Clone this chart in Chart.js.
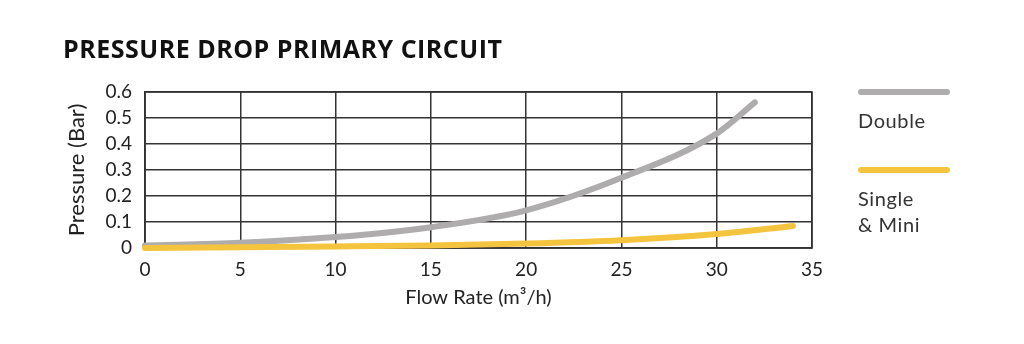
<!DOCTYPE html>
<html>
<head>
<meta charset="utf-8">
<script src="https://cdn.jsdelivr.net/npm/chart.js@4/dist/chart.umd.min.js"></script>
<style>
  html, body { margin: 0; padding: 0; background: #fff; }
  #wrap { position: relative; width: 1024px; height: 344px; }
  #title {
    position: absolute; left: 63px; top: 31px;
    font: 700 25px "Open Sans", sans-serif; color: #111; letter-spacing: 0.5px;
  }
  .swatch { position: absolute; left: 858px; width: 92px; height: 6px; border-radius: 3px; }
  .leg { position: absolute; left: 858px; font: 20px "Lato", sans-serif; color: #333; line-height: 26px; letter-spacing: 0.6px; }
</style>
</head>
<body>
<div id="wrap">
  <div id="title">PRESSURE DROP PRIMARY CIRCUIT</div>
  <canvas id="chart" width="1024" height="344"></canvas>
  <div class="swatch" style="top:89px; background:#aeacac"></div>
  <div class="leg" style="top:107px">Double</div>
  <div class="swatch" style="top:167px; background:#f5c43e"></div>
  <div class="leg" style="top:185px">Single<br>&amp; Mini</div>
</div>
<script>
// --- data ---
const doubleFlow = [0, 5, 10, 15, 20, 25, 30, 32];
const doublePressure = [0.01, 0.02, 0.042, 0.08, 0.145, 0.27, 0.44, 0.56];
const singleFlow = [0, 5, 10, 15, 20, 25, 30, 34];
const singlePressure = [0.0, 0.003, 0.006, 0.01, 0.017, 0.03, 0.054, 0.085];
const xTicks = [0, 5, 10, 15, 20, 25, 30, 35];
const yTicks = [0, 0.1, 0.2, 0.3, 0.4, 0.5, 0.6];

const toPoints = (xs, ys) => xs.map((x, i) => ({ x, y: ys[i] }));
const tickFont = { family: 'Lato', size: 19 };

new Chart(document.getElementById('chart'), {
  type: 'line',
  data: {
    datasets: [
      {
        label: 'Single & Mini',
        data: toPoints(singleFlow, singlePressure),
        borderColor: '#f5c43e',
        borderWidth: 6,
        borderCapStyle: 'round',
        pointRadius: 0,
        cubicInterpolationMode: 'monotone',
        clip: false,
      },
      {
        label: 'Double',
        data: toPoints(doubleFlow, doublePressure),
        borderColor: '#aeacac',
        borderWidth: 6,
        borderCapStyle: 'round',
        pointRadius: 0,
        cubicInterpolationMode: 'monotone',
        clip: false,
      },
    ],
  },
  options: {
    responsive: false,
    animation: false,
    layout: { padding: { top: 92, right: 212, left: 60, bottom: 30 } },
    plugins: { legend: { display: false }, tooltip: { enabled: false } },
    scales: {
      x: {
        type: 'linear', min: 0, max: 35,
        afterBuildTicks: s => { s.ticks = xTicks.map(v => ({ value: v })); },
        afterFit: s => { s.height = 66; },
        grid: { color: '#333', lineWidth: 1.5, drawTicks: false },
        border: { color: '#333', width: 1.5 },
        ticks: { color: '#222', font: tickFont, padding: 10 },
        title: { display: true, text: 'Flow Rate (m³/h)', color: '#222', font: { family: 'Lato', size: 20 }, padding: { top: 3 } },
      },
      y: {
        type: 'linear', min: 0, max: 0.6,
        afterBuildTicks: s => { s.ticks = yTicks.map(v => ({ value: v })); },
        afterFit: s => { s.width = 85; },
        grid: { color: '#333', lineWidth: 1.5, drawTicks: false },
        border: { color: '#333', width: 1.5 },
        ticks: { color: '#222', font: tickFont, padding: 13, callback: v => v === 0 ? '0' : v.toFixed(1) },
        title: { display: true, text: 'Pressure (Bar)', color: '#222', font: { family: 'Lato', size: 22 }, padding: { bottom: 2 } },
      },
    },
  },
  plugins: [{
    // closing frame on the top and right edges
    id: 'frame',
    beforeDatasetsDraw(chart) {
      const { ctx, chartArea: a } = chart;
      ctx.save();
      ctx.strokeStyle = '#333';
      ctx.lineWidth = 1.5;
      ctx.strokeRect(a.left, a.top, a.right - a.left, a.bottom - a.top);
      ctx.restore();
    },
  }],
});
</script>
</body>
</html>
